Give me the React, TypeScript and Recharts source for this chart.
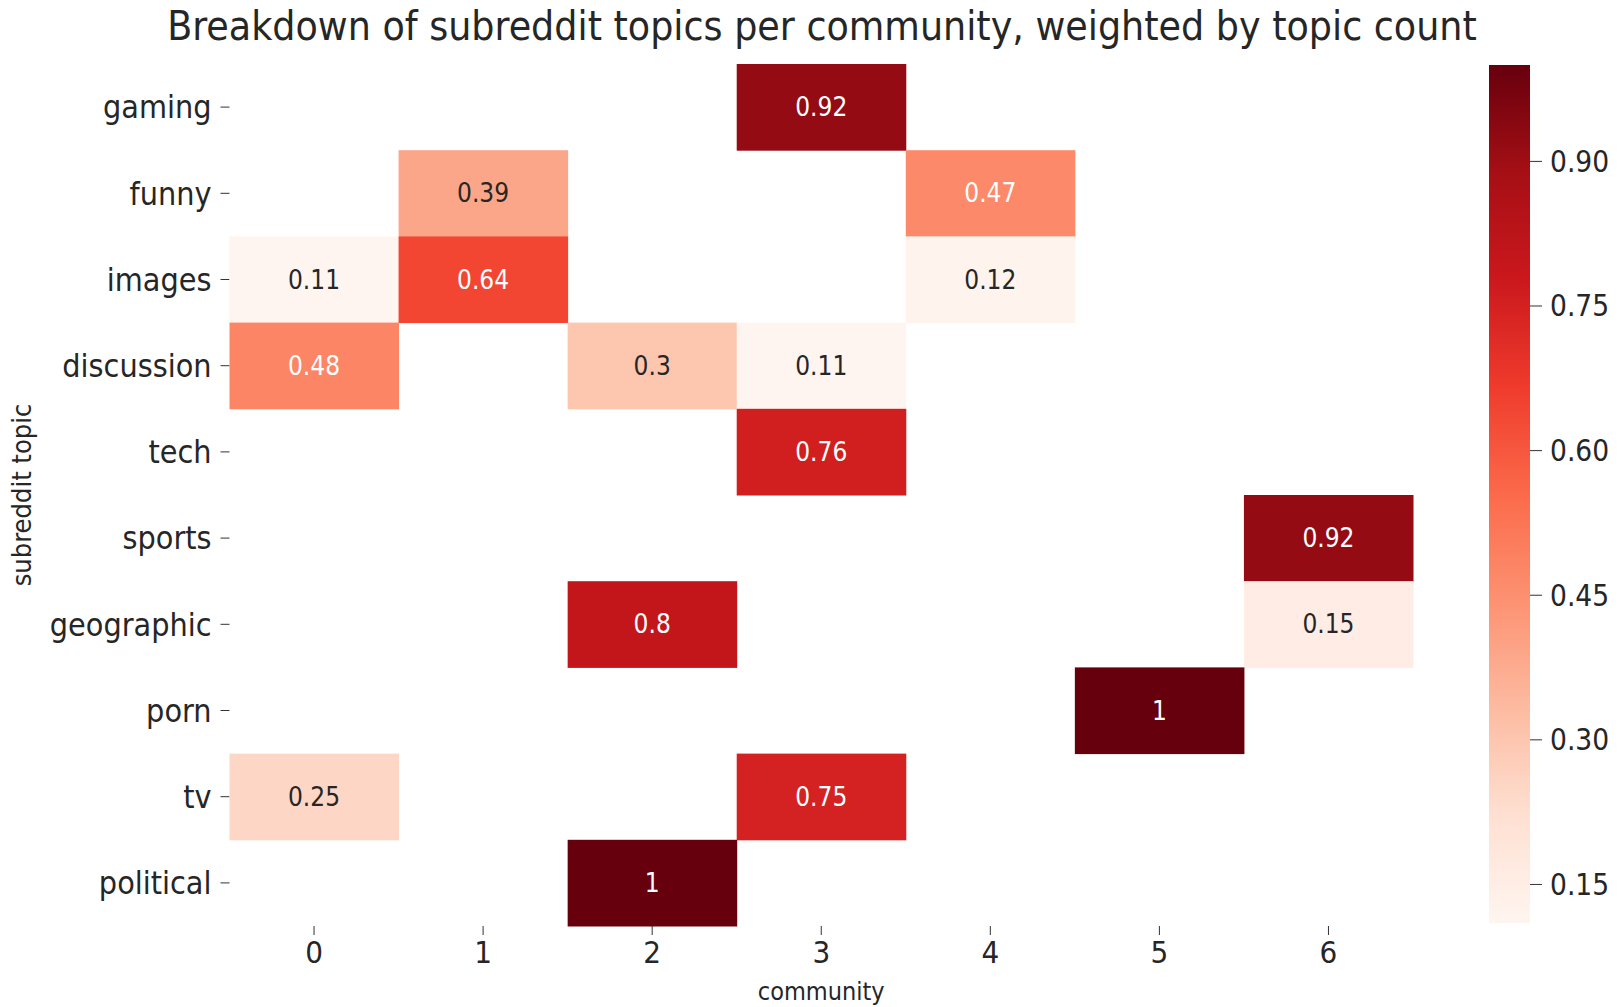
import React from "react"
import { ScatterChart, Scatter, XAxis, YAxis, BarChart, Bar } from "recharts"

// row labels (top to bottom) and column labels
const topics = ["gaming", "funny", "images", "discussion", "tech", "sports", "geographic", "porn", "tv", "political"]
const communities = [0, 1, 2, 3, 4, 5, 6]

// one row per topic, one entry per community (null = empty cell)
const gaming = [null, null, null, 0.92, null, null, null]
const funny = [null, 0.39, null, null, 0.47, null, null]
const images = [0.11, 0.64, null, null, 0.12, null, null]
const discussion = [0.48, null, 0.3, 0.11, null, null, null]
const tech = [null, null, null, 0.76, null, null, null]
const sports = [null, null, null, null, null, null, 0.92]
const geographic = [null, null, 0.8, null, null, null, 0.15]
const porn = [null, null, null, null, null, 1, null]
const tv = [0.25, null, null, 0.75, null, null, null]
const political = [null, null, 1, null, null, null, null]

const rows = [gaming, funny, images, discussion, tech, sports, geographic, porn, tv, political]

const colorbarTicks = [0.15, 0.3, 0.45, 0.6, 0.75, 0.9]
const vmin = 0.11
const vmax = 1.0

// matplotlib "Reds"
const reds = ["#fff5f0", "#fee0d2", "#fcbba1", "#fc9272", "#fb6a4a", "#ef3b2c", "#cb181d", "#a50f15", "#67000d"]

const hexToRgb = (h: string) => [1, 3, 5].map((i) => parseInt(h.slice(i, i + 2), 16))

const colorFor = (v: number) => {
  let t = (v - vmin) / (vmax - vmin)
  t = Math.max(0, Math.min(1, t))
  const pos = t * (reds.length - 1)
  const i = Math.min(Math.floor(pos), reds.length - 2)
  const f = pos - i
  const a = hexToRgb(reds[i])
  const b = hexToRgb(reds[i + 1])
  return a.map((x, k) => Math.round(x + (b[k] - x) * f))
}

const luminance = (c: number[]) => {
  const lin = c.map((x) => {
    const s = x / 255
    return s <= 0.03928 ? s / 12.92 : Math.pow((s + 0.055) / 1.055, 2.4)
  })
  return 0.2126 * lin[0] + 0.7152 * lin[1] + 0.0722 * lin[2]
}

const cells: { x: number; y: number; v: number }[] = []
rows.forEach((r, y) => {
  r.forEach((v, x) => {
    if (v !== null) cells.push({ x, y, v: v as number })
  })
})

// colorbar is one range bar from vmin to vmax
const colorbarData = [{ name: "cbar", range: [vmin, vmax] }]

const W = 1621
const H = 1007
const PLOT_LEFT = 229.5
const PLOT_RIGHT = 1413
const PLOT_TOP = 64
const PLOT_BOTTOM = 926
const cellW = (PLOT_RIGHT - PLOT_LEFT) / communities.length
const cellH = (PLOT_BOTTOM - PLOT_TOP) / topics.length

const FONT = "'DejaVu Sans Condensed', 'DejaVu Sans', sans-serif"

const CellShape = (props: any) => {
  const { cx, cy, payload } = props
  const c = colorFor(payload.v)
  const fill = `rgb(${c[0]},${c[1]},${c[2]})`
  const textColor = luminance(c) > 0.408 ? "#262626" : "#ffffff"
  return (
    <g>
      <rect x={cx - cellW / 2} y={cy - cellH / 2} width={cellW + 0.5} height={cellH + 0.5} fill={fill} />
      <text x={cx} y={cy} textAnchor="middle" dominantBaseline="central" fontSize={26} fill={textColor}>
        {String(payload.v)}
      </text>
    </g>
  )
}

const App = () => {
  return (
    <div style={{ position: "absolute", left: 0, top: 0, width: W, height: H, background: "#fff", fontFamily: FONT, fontStretch: "condensed" }}>
      <div
        style={{
          position: "absolute",
          left: 822 - 800,
          width: 1600,
          top: 2,
          textAlign: "center",
          fontSize: 40.6,
          color: "#262626",
          whiteSpace: "nowrap",
        }}
      >
        Breakdown of subreddit topics per community, weighted by topic count
      </div>

      <div style={{ position: "absolute", left: 0, top: 0 }}>
        <ScatterChart width={W} height={H} margin={{ top: PLOT_TOP, right: W - PLOT_RIGHT, left: 0, bottom: 0 }}>
          <XAxis
            type="number"
            dataKey="x"
            domain={[-0.5, communities.length - 0.5]}
            ticks={communities}
            interval={0}
            height={H - PLOT_BOTTOM}
            axisLine={false}
            tickSize={9}
            tickMargin={6}
            tickLine={{ stroke: "#333" }}
            tick={{ fill: "#262626", fontSize: 31 }}
            label={{ value: "community", position: "insideBottom", offset: 7, fill: "#262626", fontSize: 25 }}
          />
          <YAxis
            type="number"
            dataKey="y"
            domain={[-0.5, topics.length - 0.5]}
            reversed
            ticks={topics.map((_, i) => i)}
            interval={0}
            tickFormatter={(i: number) => topics[i]}
            width={PLOT_LEFT}
            axisLine={false}
            tickSize={9}
            tickMargin={9}
            tickLine={{ stroke: "#333" }}
            tick={{ fill: "#262626", fontSize: 32 }}
            label={{ value: "subreddit topic", angle: -90, position: "insideLeft", offset: 21, fill: "#262626", fontSize: 27, style: { textAnchor: "middle" } }}
          />
          <Scatter data={cells} shape={<CellShape />} isAnimationActive={false} />
        </ScatterChart>
      </div>

      <div style={{ position: "absolute", left: 1489, top: 0 }}>
        <BarChart
          width={132}
          height={H}
          data={colorbarData}
          margin={{ top: 65, bottom: H - 923, left: 0, right: 0 }}
          barCategoryGap={0}
        >
          <defs>
            <linearGradient id="cbarGrad" x1="0" y1="1" x2="0" y2="0">
              {reds.map((c, i) => (
                <stop key={c} offset={i / (reds.length - 1)} stopColor={c} />
              ))}
            </linearGradient>
          </defs>
          <XAxis dataKey="name" hide />
          <YAxis
            type="number"
            orientation="right"
            domain={[vmin, vmax]}
            allowDataOverflow
            ticks={colorbarTicks}
            interval={0}
            tickFormatter={(v: number) => v.toFixed(2)}
            width={91}
            axisLine={false}
            tickSize={12}
            tickMargin={8}
            tickLine={{ stroke: "#333" }}
            tick={{ fill: "#262626", fontSize: 29.5 }}
          />
          <Bar dataKey="range" fill="url(#cbarGrad)" isAnimationActive={false} />
        </BarChart>
      </div>
    </div>
  )
}

export default App
